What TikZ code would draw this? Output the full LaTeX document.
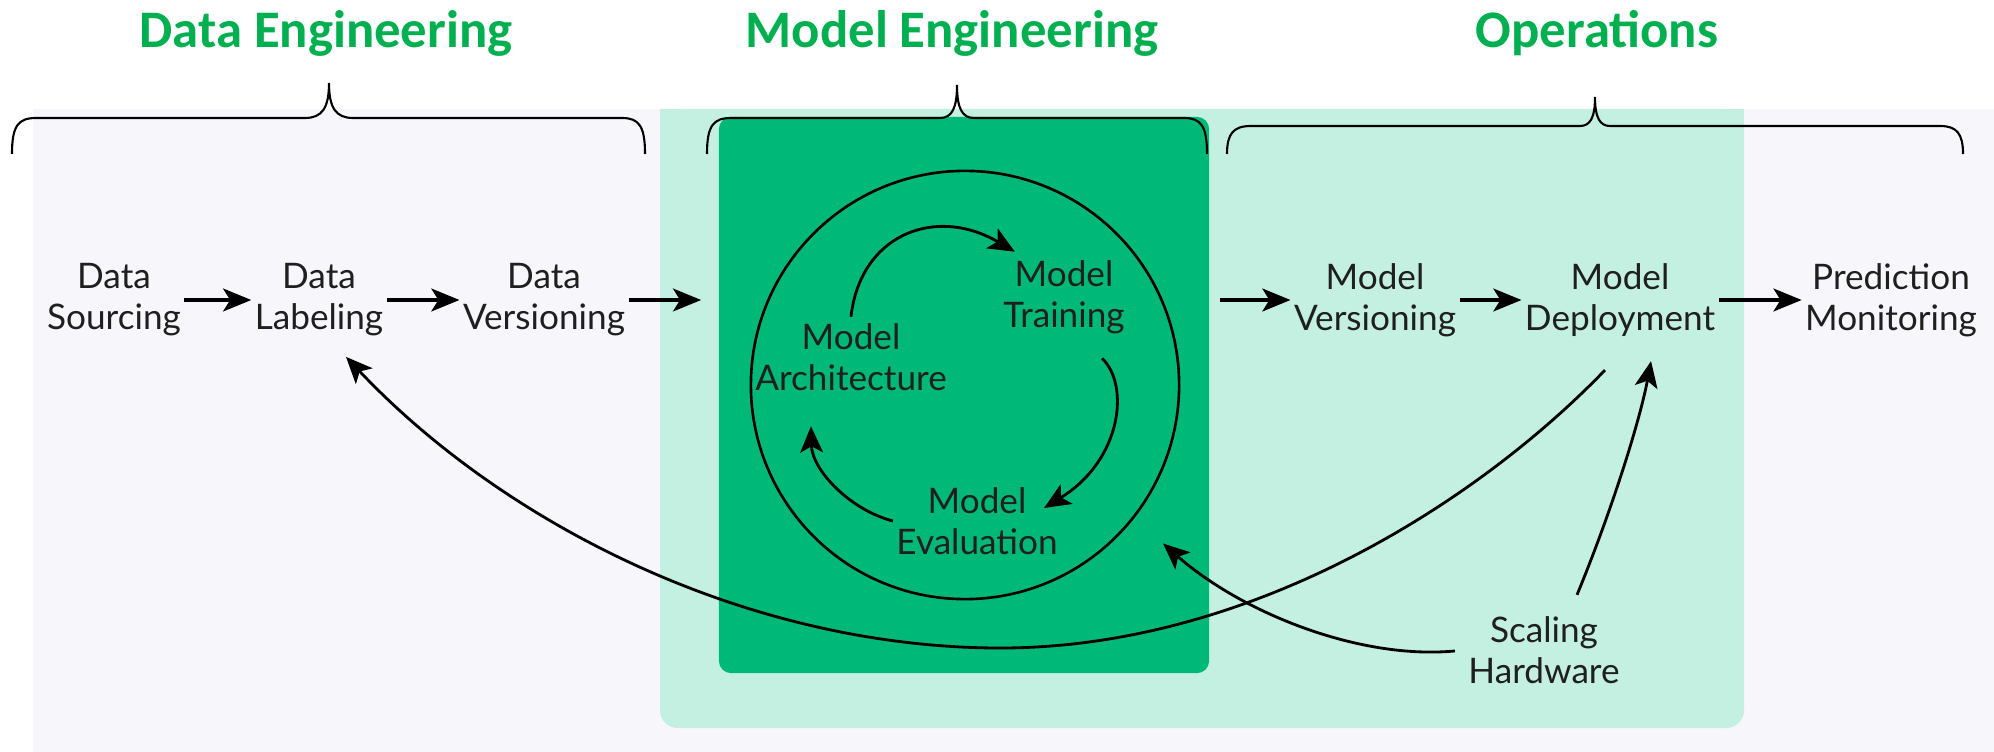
\documentclass[tikz,border=0pt]{standalone}
\usepackage{fontspec}
\setmainfont{Lato}
\newfontfamily\titlefont{Carlito}
\usetikzlibrary{arrows.meta}
\definecolor{greypanel}{HTML}{F7F7FB}
\definecolor{lightgreen}{HTML}{C3F0E0}
\definecolor{darkgreen}{HTML}{00B978}
\definecolor{titlegreen}{HTML}{00B050}
\begin{document}
\begin{tikzpicture}[x=0.01cm,y=-0.01cm,
  lbl/.style={font=\fontsize{10}{11.7}\selectfont, align=center, inner sep=0pt, outer sep=1pt, text=black!88},
  ttl/.style={font=\titlefont\bfseries\fontsize{15}{18}\selectfont, text=titlegreen, anchor=base},
  harr/.style={-{Stealth[length=8pt,width=6.5pt,inset=2pt]}, line width=1pt},
  carr/.style={-{Stealth[length=7.5pt,width=6.5pt,inset=1.8pt]}, line width=0.8pt},
  brc/.style={line width=0.6pt}]
\useasboundingbox (0,0) rectangle (1994,752);
\fill[white] (0,0) rectangle (1994,752);
\fill[greypanel] (33,109) rectangle (1994,752);
\fill[lightgreen, rounded corners=5pt] (660,109) rectangle (1744,728);
\fill[lightgreen] (660,109) rectangle (1744,300);
\node[fill=darkgreen, rounded corners=3.5pt, minimum width=4.9cm, minimum height=5.56cm, inner sep=0pt] (box) at (964,395) {};
\node[draw, circle, line width=0.75pt, minimum size=4.28cm, inner sep=0pt] (cyc) at (965,385) {};

% titles
\node[ttl] (t1) at (326,48) {Data Engineering};
\node[ttl] (t2) at (952,48) {Model Engineering};
\node[ttl] (t3) at (1597,48) {Operations};

% braces
\draw[brc] (12,154) .. controls (12,126) and (18,118) .. (36,118) -- (305,118) .. controls (322,118) and (329,108) .. (329,83) .. controls (329,108) and (336,118) .. (353,118) -- (622,118) .. controls (639,118) and (645,126) .. (645,154);
\draw[brc] (707,154) .. controls (707,126) and (713,118) .. (731,118) -- (940,118) .. controls (952,118) and (957,108) .. (957,85) .. controls (957,108) and (962,118) .. (974,118) -- (1184,118) .. controls (1201,118) and (1207,126) .. (1207,154);
\draw[brc] (1227,154) .. controls (1227,134) and (1233,126) .. (1251,126) -- (1580,126) .. controls (1590,126) and (1595,118) .. (1595,97) .. controls (1595,118) and (1600,126) .. (1610,126) -- (1940,126) .. controls (1957,126) and (1963,134) .. (1963,154);

% pipeline labels
\node[lbl] (ds) at (114,300) {Data\\Sourcing};
\node[lbl] (dl) at (319,300) {Data\\Labeling};
\node[lbl] (dv) at (544,300) {Data\\Versioning};
\node[lbl] (mv) at (1375,300) {Model\\Versioning};
\node[lbl] (md) at (1620,300) {Model\\Deployment};
\node[lbl] (pm) at (1891,300) {Prediction\\Monitoring};
\node[lbl] (mt) at (1064,297) {Model\\Training};
\node[lbl] (ma) at (851,357) {Model\\Architecture};
\node[lbl] (me) at (977,521) {Model\\Evaluation};
\node[lbl] (sh) at (1544,650) {Scaling\\Hardware};

% straight arrows
\draw[harr] (ds.east) -- (dl.west);
\draw[harr] (dl.east) -- (dv.west);
\draw[harr, shorten >=1.7mm] (dv.east) -- (dv.east -| box.west);
\draw[harr, shorten <=1mm] (mv.west -| box.east) -- (mv.west);
\draw[harr] (mv.east) -- (md.west);
\draw[harr] (md.east) -- (pm.west);

% cycle arrows
\draw[carr] ([yshift=0.03cm]ma.north) .. controls (860,235) and (935,205) .. ([xshift=0.15cm,yshift=0.05cm]mt.north west);
\draw[carr] ([xshift=0.38cm,yshift=-0.21cm]mt.south) .. controls (1130,385) and (1122,460) .. ([xshift=-0.17cm,yshift=0.13cm]me.east);
\draw[carr] (me.west) .. controls (850,510) and (812,470) .. ([xshift=-0.4cm,yshift=-0.32cm]ma.south);

% feedback arrows
\draw[carr] ([xshift=-0.15cm,yshift=-0.3cm]md.south) .. controls (1480,500) and (1250,650) .. (995,648) .. controls (740,646) and (500,520) .. ([xshift=0.27cm,yshift=-0.17cm]dl.south);
\draw[carr, shorten <=1mm] (sh.west) .. controls (1360,660) and (1242,613) .. ([xshift=0.33cm,yshift=-0.2cm]cyc.-40);
\draw[carr] ([xshift=0.33cm,yshift=0.18cm]sh.north) .. controls (1612,510) and (1640,420) .. ([xshift=0.31cm,yshift=-0.21cm]md.south);
\end{tikzpicture}
\end{document}
